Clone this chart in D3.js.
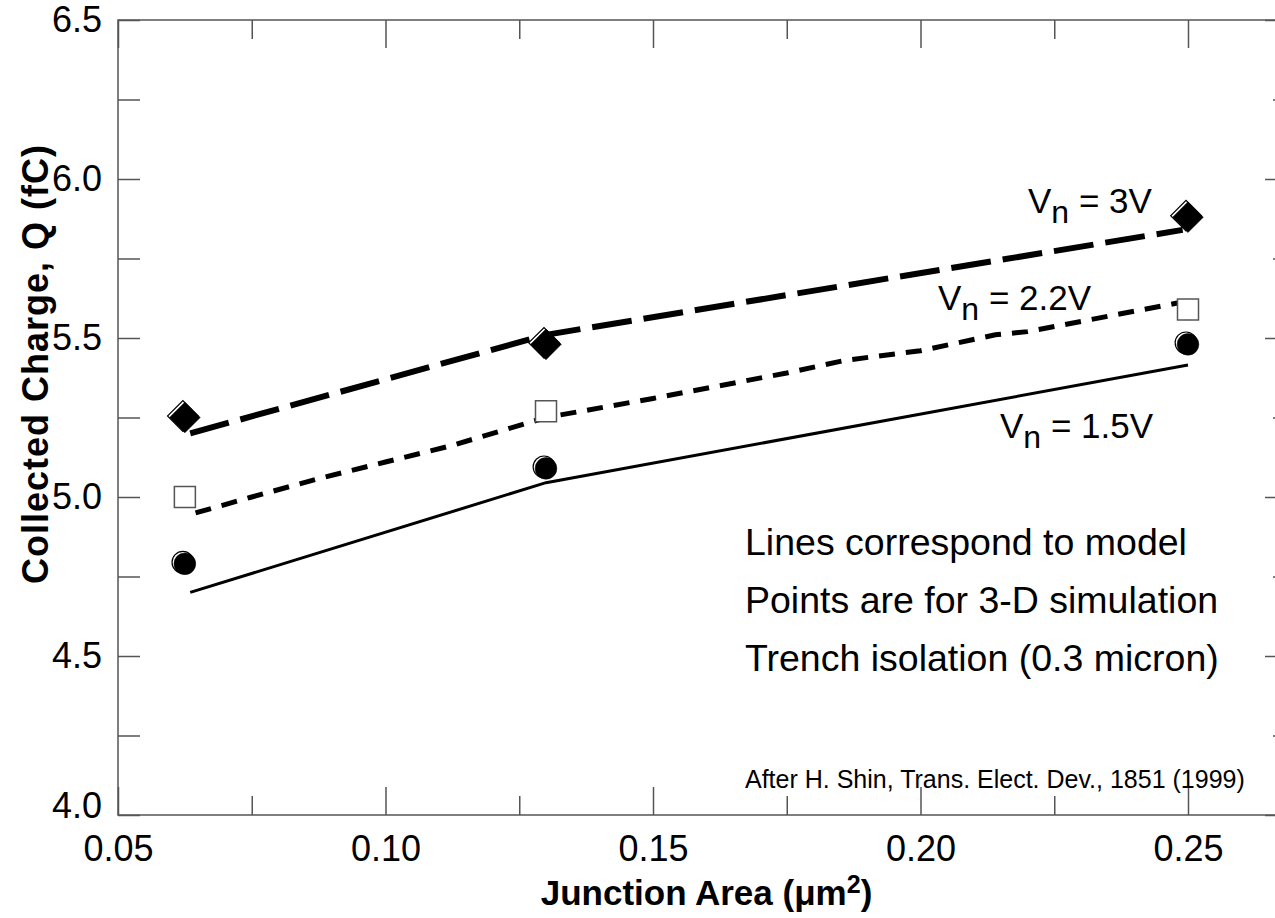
<!DOCTYPE html>
<html>
<head>
<meta charset="utf-8">
<script src="https://cdn.jsdelivr.net/npm/d3@7"></script>
<style>
  body { margin: 0; background: #fff; }
  text { font-family: "Liberation Sans", Arial, sans-serif; fill: #000; }
</style>
</head>
<body>
<div id="chart"></div>
<script>
// Collected charge vs junction area (after H. Shin, 1999)

const FRAME_WIDTH = 1275;
const FRAME_HEIGHT = 918;
const MARGINS = {left: 118, right: -20, top: 20, bottom: 103};

const VIS_WIDTH = FRAME_WIDTH - MARGINS.left - MARGINS.right;
const VIS_HEIGHT = FRAME_HEIGHT - MARGINS.top - MARGINS.bottom;

// axis ticks
const X_MAJOR = [0.05, 0.10, 0.15, 0.20, 0.25];
const X_MINOR = [0.075, 0.125, 0.175, 0.225];
const Y_MAJOR = [4.0, 4.5, 5.0, 5.5, 6.0, 6.5];
const Y_MINOR = [4.25, 4.75, 5.25, 5.75, 6.25];

// 3-D simulation points
const simArea = [0.0625, 0.13, 0.25];
const sim3V = [5.25, 5.48, 5.88];
const sim22V = [5.00, 5.27, 5.59];
const sim15V = [4.79, 5.09, 5.48];

// model curves
const model3VArea = [0.0635, 0.13, 0.249];
const model3V = [5.20, 5.51, 5.84];
const model22VArea = [0.0645, 0.075, 0.088, 0.10, 0.112, 0.13, 0.15, 0.175, 0.186, 0.20, 0.214, 0.22, 0.248];
const model22V = [4.95, 5.00, 5.06, 5.11, 5.16, 5.25, 5.31, 5.39, 5.43, 5.46, 5.51, 5.52, 5.61];
const model15VArea = [0.0635, 0.13, 0.25];
const model15V = [4.70, 5.045, 5.415];

const noteLines = ["Lines correspond to model", "Points are for 3-D simulation", "Trench isolation (0.3 micron)"];

const FRAME = d3.select("#chart").append("svg")
    .attr("width", FRAME_WIDTH)
    .attr("height", FRAME_HEIGHT);

const xSCALE = d3.scaleLinear().domain([0.05, 0.27]).range([0, VIS_WIDTH]);
const ySCALE = d3.scaleLinear().domain([4.0, 6.5]).range([VIS_HEIGHT, 0]);

const G = FRAME.append("g")
    .attr("transform", "translate(" + MARGINS.left + "," + MARGINS.top + ")");

// tick helper: inward ticks, no labels
function ticks(axis, vals, size, tx, ty) {
  const g = G.append("g")
      .attr("transform", "translate(" + tx + "," + ty + ")")
      .call(axis.tickValues(vals).tickSizeInner(-size).tickSizeOuter(0).tickFormat(""));
  g.select(".domain").remove();
  g.selectAll("line").attr("stroke", "#555").attr("stroke-width", 1.5);
}

ticks(d3.axisBottom(xSCALE), X_MAJOR, 28, 0, VIS_HEIGHT);
ticks(d3.axisBottom(xSCALE), X_MINOR, 19, 0, VIS_HEIGHT);
ticks(d3.axisTop(xSCALE), X_MAJOR, 28, 0, 0);
ticks(d3.axisTop(xSCALE), X_MINOR, 19, 0, 0);
ticks(d3.axisLeft(ySCALE), Y_MAJOR, 22, 0, 0);
ticks(d3.axisLeft(ySCALE), Y_MINOR, 22, 0, 0);
ticks(d3.axisRight(ySCALE), Y_MAJOR, 30, VIS_WIDTH, 0);
ticks(d3.axisRight(ySCALE), Y_MINOR, 22, VIS_WIDTH, 0);

// frame
G.append("rect")
    .attr("width", VIS_WIDTH)
    .attr("height", VIS_HEIGHT)
    .attr("fill", "none")
    .attr("stroke", "#555")
    .attr("stroke-width", 1.5);

// tick labels
const xLab = G.append("g")
    .attr("transform", "translate(0," + VIS_HEIGHT + ")")
    .call(d3.axisBottom(xSCALE).tickValues(X_MAJOR).tickSize(0).tickPadding(20).tickFormat(d3.format(".2f")));
xLab.select(".domain").remove();
xLab.selectAll("text").attr("font-size", "36px").attr("font-family", "Liberation Sans, Arial, sans-serif");

const yLab = G.append("g")
    .call(d3.axisLeft(ySCALE).tickValues(Y_MAJOR).tickSize(0).tickPadding(16).tickFormat(d3.format(".1f")));
yLab.select(".domain").remove();
yLab.selectAll("text").attr("font-size", "36px").attr("font-family", "Liberation Sans, Arial, sans-serif")
    .attr("y", (d) => d === 4.0 ? -9 : 0);

// model lines
const line = d3.line().x((d) => xSCALE(d[0])).y((d) => ySCALE(d[1]));

G.append("path")
    .datum(d3.zip(model15VArea, model15V))
    .attr("d", line)
    .attr("fill", "none").attr("stroke", "#000").attr("stroke-width", 3);

G.append("path")
    .datum(d3.zip(model22VArea, model22V))
    .attr("d", line)
    .attr("fill", "none").attr("stroke", "#000").attr("stroke-width", 5)
    .attr("stroke-dasharray", "16 11");

G.append("path")
    .datum(d3.zip(model3VArea, model3V))
    .attr("d", line)
    .attr("fill", "none").attr("stroke", "#000").attr("stroke-width", 6)
    .attr("stroke-dasharray", "40 12");

// simulation points
function points(vals, type, size, rot, filled) {
  const sym = d3.symbol().type(type).size(size);
  const data = d3.zip(simArea, vals);
  if (filled) {
    // offset open outline behind the filled marker
    G.selectAll(null).data(data).enter().append("path")
        .attr("d", sym)
        .attr("transform", (d) => "translate(" + (xSCALE(d[0]) - 2) + "," + (ySCALE(d[1]) - 1.5) + ") rotate(" + rot + ")")
        .attr("fill", "#fff").attr("stroke", "#000").attr("stroke-width", 1.2);
  }
  G.selectAll(null).data(data).enter().append("path")
      .attr("d", sym)
      .attr("transform", (d) => "translate(" + xSCALE(d[0]) + "," + ySCALE(d[1]) + ") rotate(" + rot + ")")
      .attr("fill", filled ? "#000" : "#fff")
      .attr("stroke", filled ? "#000" : "#555")
      .attr("stroke-width", filled ? 0.5 : 1.5);
}

points(sim15V, d3.symbolCircle, 370, 0, true);
points(sim22V, d3.symbolSquare, 441, 0, false);
points(sim3V, d3.symbolSquare, 470, 45, true);

// curve labels
function vLabel(x, y, val) {
  const t = FRAME.append("text").attr("x", x).attr("y", y).attr("font-size", "35px");
  t.append("tspan").text("V");
  t.append("tspan").attr("dy", 10).attr("font-size", "32px").text("n");
  t.append("tspan").attr("dy", -10).text(" = " + val);
}
vLabel(1028, 213, "3V");
vLabel(938, 310, "2.2V");
vLabel(1000, 438, "1.5V");

// notes
FRAME.selectAll(".note").data(noteLines).enter().append("text")
    .attr("class", "note")
    .attr("x", 745)
    .attr("y", (d, i) => 555 + i * 58)
    .attr("font-size", "37.5px")
    .text((d) => d);

FRAME.append("text")
    .attr("x", 745).attr("y", 788)
    .attr("font-size", "25px")
    .text("After H. Shin, Trans. Elect. Dev., 1851 (1999)");

// axis titles
const xt = FRAME.append("text")
    .attr("x", MARGINS.left + VIS_WIDTH / 2).attr("y", 905)
    .attr("text-anchor", "middle")
    .attr("font-size", "35px").attr("font-weight", "bold");
xt.append("tspan").text("Junction Area (\u03bcm");
xt.append("tspan").attr("dy", -12).attr("font-size", "25px").text("2");
xt.append("tspan").attr("dy", 12).text(")");

FRAME.append("text")
    .attr("transform", "translate(48,364) rotate(-90)")
    .attr("text-anchor", "middle")
    .attr("font-size", "36px").attr("font-weight", "bold")
    .attr("letter-spacing", "1px")
    .text("Collected Charge, Q (fC)");
</script>
</body>
</html>
